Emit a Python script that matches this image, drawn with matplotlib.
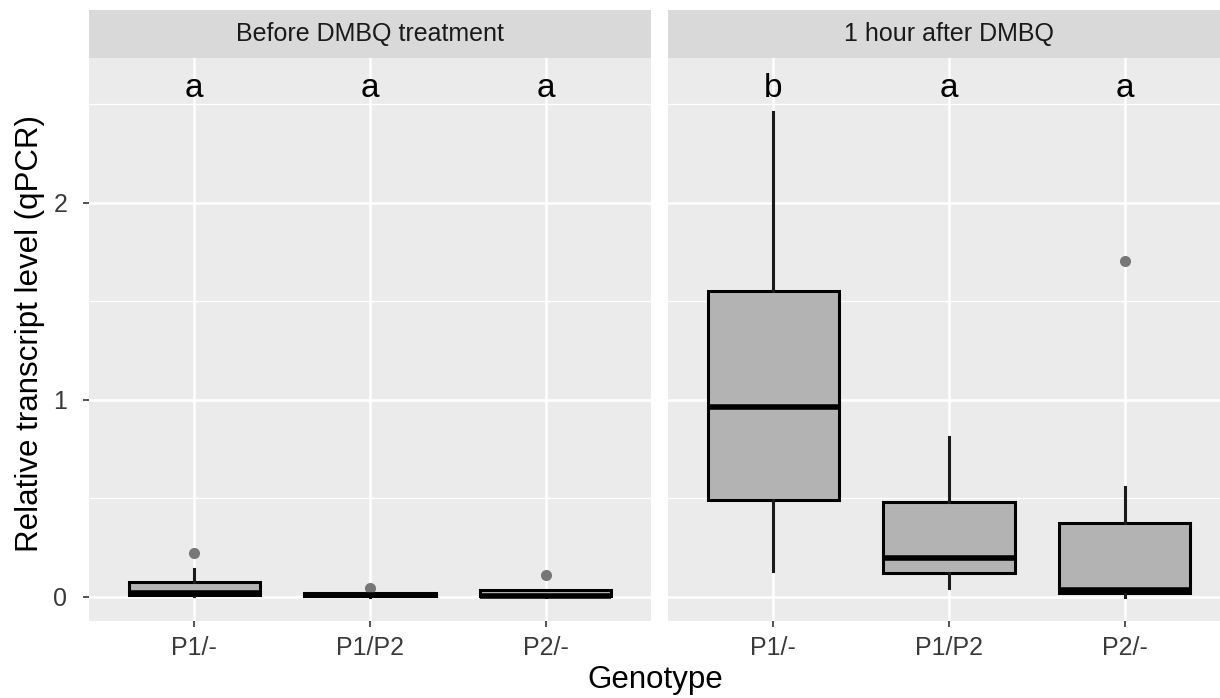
import matplotlib
matplotlib.use('Agg')
import matplotlib.pyplot as plt
from matplotlib import rcParams

rcParams['font.family'] = ['Liberation Sans', 'DejaVu Sans']

genotypes = ['P1/-', 'P1/P2', 'P2/-']
facets = ['Before DMBQ treatment', '1 hour after DMBQ']

# box stats per facet: one value per genotype
before_whislo = [0.005, 0.002, 0.0]
before_q1 = [0.01, 0.006, 0.003]
before_med = [0.022, 0.012, 0.006]
before_q3 = [0.076, 0.02, 0.035]
before_whishi = [0.14, 0.03, 0.035]
before_fliers = [[0.222], [0.045], [0.112]]

after_whislo = [0.132, 0.044, 0.0]
after_q1 = [0.492, 0.12, 0.02]
after_med = [0.966, 0.196, 0.035]
after_q3 = [1.553, 0.481, 0.374]
after_whishi = [2.46, 0.814, 0.56]
after_fliers = [[], [], [1.707]]

before_letters = ['a', 'a', 'a']
after_letters = ['b', 'a', 'a']
letter_y = 2.58


def make_stats(wlo, q1, med, q3, whi, fl):
    out = []
    for i in range(len(genotypes)):
        out.append(dict(whislo=wlo[i], q1=q1[i], med=med[i], q3=q3[i],
                        whishi=whi[i], fliers=fl[i], label=genotypes[i]))
    return out


panels = [
    (make_stats(before_whislo, before_q1, before_med, before_q3, before_whishi, before_fliers), before_letters),
    (make_stats(after_whislo, after_q1, after_med, after_q3, after_whishi, after_fliers), after_letters),
]

W, H = 1220, 698
fig = plt.figure(figsize=(W / 100, H / 100), dpi=100)

panel_left = [89, 668]
panel_w = 562
panel_top, panel_bot = 58, 621
strip_top = 10

for k, (stats, letters) in enumerate(panels):
    ax = fig.add_axes([panel_left[k] / W, 1 - panel_bot / H, panel_w / W, (panel_bot - panel_top) / H])
    ax.set_facecolor('#EBEBEB')
    for s in ax.spines.values():
        s.set_visible(False)
    ax.set_xlim(0.4, 3.6)
    ax.set_ylim(-0.122, 2.736)
    ax.set_yticks([0, 1, 2])
    ax.set_yticks([0.5, 1.5, 2.5], minor=True)
    ax.grid(True, which='major', color='white', linewidth=1.8)
    ax.grid(True, which='minor', axis='y', color='white', linewidth=0.9)
    ax.set_axisbelow(True)

    ax.bxp(stats, positions=[1, 2, 3], widths=0.75, patch_artist=True, showcaps=False,
           boxprops=dict(facecolor='#B3B3B3', edgecolor='black', linewidth=2.2),
           medianprops=dict(color='black', linewidth=4.0),
           whiskerprops=dict(color='#1A1A1A', linewidth=2.2),
           flierprops=dict(marker='o', markersize=8, markerfacecolor='#777777',
                           markeredgecolor='#777777', markeredgewidth=0))
    ax.set_xticks([1, 2, 3])
    ax.set_xticklabels(genotypes)
    ax.tick_params(axis='x', which='major', length=4.5, width=1.2, color='#333333',
                   labelsize=18, labelcolor='#3A3A3A', pad=6)
    ax.tick_params(axis='y', which='minor', length=0)
    if k == 0:
        ax.set_yticklabels(['0', '1', '2'])
        ax.tick_params(axis='y', which='major', length=4.5, width=1.2, color='#333333',
                       labelsize=18, labelcolor='#3A3A3A', pad=11)
    else:
        ax.tick_params(axis='y', which='major', length=0, labelleft=False)

    for i, lab in enumerate(letters):
        ax.text(i + 1, letter_y, lab, ha='center', va='center', fontsize=24, color='black')

    sax = fig.add_axes([panel_left[k] / W, 1 - panel_top / H, panel_w / W, (panel_top - strip_top) / H])
    sax.set_facecolor('#D9D9D9')
    sax.set_xticks([])
    sax.set_yticks([])
    for s in sax.spines.values():
        s.set_visible(False)
    sax.text(0.5, 0.5, facets[k], transform=sax.transAxes, ha='center', va='center',
             fontsize=18, color='#1A1A1A')

fig.text(30 / W, 1 - 334 / H, 'Relative transcript level (qPCR)', rotation=90,
         ha='center', va='center', fontsize=22.5, color='black')
fig.text(655 / W, 1 - 680 / H, 'Genotype', ha='center', va='center', fontsize=22.5, color='black')

fig.savefig('out.png', dpi=100)
